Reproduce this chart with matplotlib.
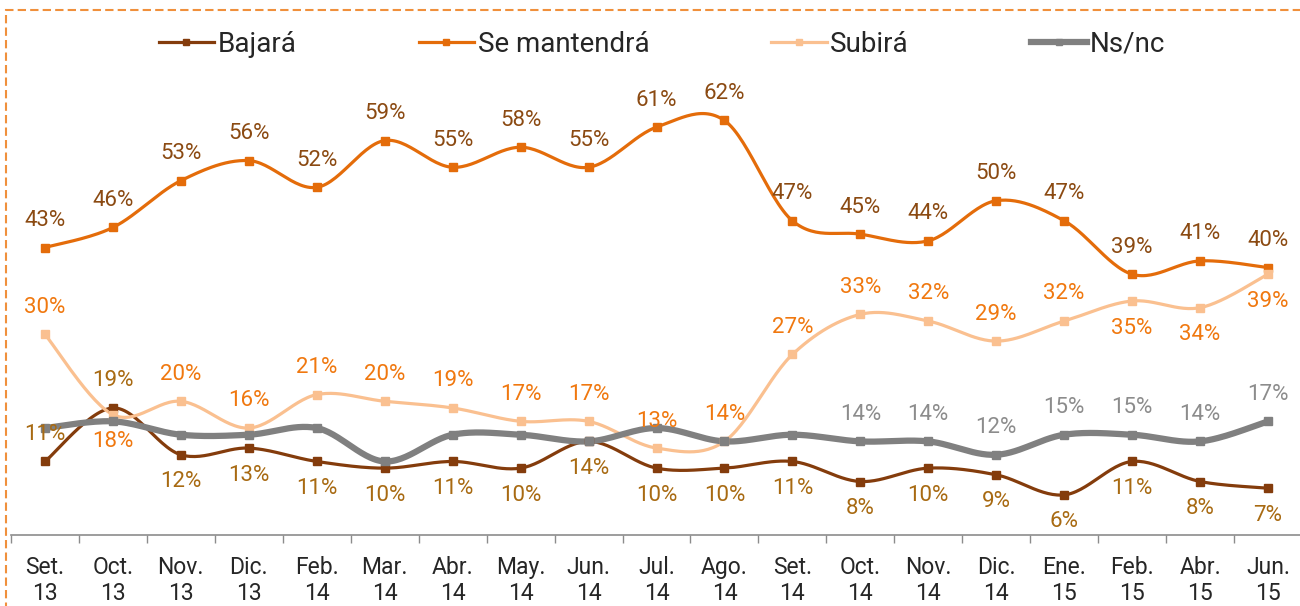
import numpy as np
import matplotlib.pyplot as plt
from matplotlib.lines import Line2D
from matplotlib.patches import Rectangle

plt.rcParams["font.family"] = ["Roboto", "DejaVu Sans"]

months = ["Set.\n13", "Oct.\n13", "Nov.\n13", "Dic.\n13", "Feb.\n14", "Mar.\n14",
          "Abr.\n14", "May.\n14", "Jun.\n14", "Jul.\n14", "Ago.\n14", "Set.\n14",
          "Oct.\n14", "Nov.\n14", "Dic.\n14", "Ene.\n15", "Feb.\n15", "Abr.\n15",
          "Jun.\n15"]

bajara = [11, 19, 12, 13, 11, 10, 11, 10, 14, 10, 10, 11, 8, 10, 9, 6, 11, 8, 7]
se_mantendra = [43, 46, 53, 56, 52, 59, 55, 58, 55, 61, 62, 47, 45, 44, 50, 47, 39, 41, 40]
subira = [30, 18, 20, 16, 21, 20, 19, 17, 17, 13, 14, 27, 33, 32, 29, 32, 35, 34, 39]
ns_nc = [16, 17, 15, 15, 16, 11, 15, 15, 14, 16, 14, 15, 14, 14, 12, 15, 15, 14, 17]

# label placement: +1 above the point, -1 below, 0 no label
bajara_pos = [1, 1, -1, -1, -1, -1, -1, -1, -1, -1, -1, -1, -1, -1, -1, -1, -1, -1, -1]
mantendra_pos = [1] * 19
subira_pos = [1, -1, 1, 1, 1, 1, 1, 1, 1, 1, 1, 1, 1, 1, 1, 1, -1, -1, -1]
ns_nc_pos = [0] * 12 + [1] * 7

series = [
    ("Bajará", bajara, bajara_pos, "#843C0C", "#A86A12", 2.3),
    ("Se mantendrá", se_mantendra, mantendra_pos, "#E46C0A", "#8B4A12", 2.3),
    ("Subirá", subira, subira_pos, "#FAC090", "#F0780F", 2.3),
    ("Ns/nc", ns_nc, ns_nc_pos, "#808080", "#8C8C8C", 4.5),
]


def smooth(xs, ys, steps=30):
    # Bezier segments with Catmull-Rom tangents, like office "smoothed line"
    xs = np.asarray(xs, float)
    ys = np.asarray(ys, float)
    px = np.concatenate([[xs[0]], xs, [xs[-1]]])
    py = np.concatenate([[ys[0]], ys, [ys[-1]]])
    out_x, out_y = [], []
    t = np.linspace(0, 1, steps)
    for i in range(1, len(px) - 2):
        x0, x1, x2, x3 = px[i - 1], px[i], px[i + 1], px[i + 2]
        y0, y1, y2, y3 = py[i - 1], py[i], py[i + 1], py[i + 2]
        c1x, c1y = x1 + (x2 - x0) / 6, y1 + (y2 - y0) / 6
        c2x, c2y = x2 - (x3 - x1) / 6, y2 - (y3 - y1) / 6
        bx = (1 - t) ** 3 * x1 + 3 * (1 - t) ** 2 * t * c1x + 3 * (1 - t) * t ** 2 * c2x + t ** 3 * x2
        by = (1 - t) ** 3 * y1 + 3 * (1 - t) ** 2 * t * c1y + 3 * (1 - t) * t ** 2 * c2y + t ** 3 * y2
        out_x.extend(bx)
        out_y.extend(by)
    return out_x, out_y


fig = plt.figure(figsize=(13, 6.06), dpi=100)
ax = fig.add_axes([11 / 1300, 71 / 606, 1291 / 1300, 468 / 606])

x = np.arange(len(months))
handles = []
for name, values, pos, color, label_color, lw in series:
    sx, sy = smooth(x, values)
    ax.plot(sx, sy, color=color, lw=lw, solid_capstyle="round", zorder=2)
    ax.plot(x, values, ls="none", marker="s", ms=5.5, color=color, zorder=3)
    for xi, v, p in zip(x, values, pos):
        if p == 0:
            continue
        ax.annotate(f"{v}%", (xi, v), xytext=(0, 19.5 * p), textcoords="offset points",
                    ha="center", va="center", fontsize=16, color=label_color, zorder=4)
    handles.append(Line2D([], [], color=color, lw=lw, marker="s", ms=5))

ax.set_xlim(-0.5, len(months) - 0.5)
ax.set_ylim(0, 70)
ax.set_xticks(x)
ax.set_xticklabels(months, fontsize=16.5, color="#262626", linespacing=1.2)
ax.set_xticks(np.arange(-0.5, len(months)), minor=True)
ax.tick_params(axis="x", which="major", length=0, pad=15)
ax.tick_params(axis="x", which="minor", length=6, width=1, color="#8C8C8C", direction="out")
ax.set_yticks([])
for side in ["top", "right", "left"]:
    ax.spines[side].set_visible(False)
ax.spines["bottom"].set_color("#8C8C8C")
ax.spines["bottom"].set_linewidth(1.2)

fig.legend(handles, [s[0] for s in series], loc="center", bbox_to_anchor=(662 / 1300, 1 - 44 / 606),
           ncol=4, frameon=False, fontsize=20, handlelength=2.0, handletextpad=0.12,
           columnspacing=4.4, labelcolor="#262626")

fig.patches.append(Rectangle((6 / 1300, -0.1), 1.2, 1 - 10 / 606 + 0.1, transform=fig.transFigure,
                             fill=False, edgecolor="#F0903C", lw=1.5, ls=(0, (4, 2))))

fig.savefig("out.png", dpi=100)
